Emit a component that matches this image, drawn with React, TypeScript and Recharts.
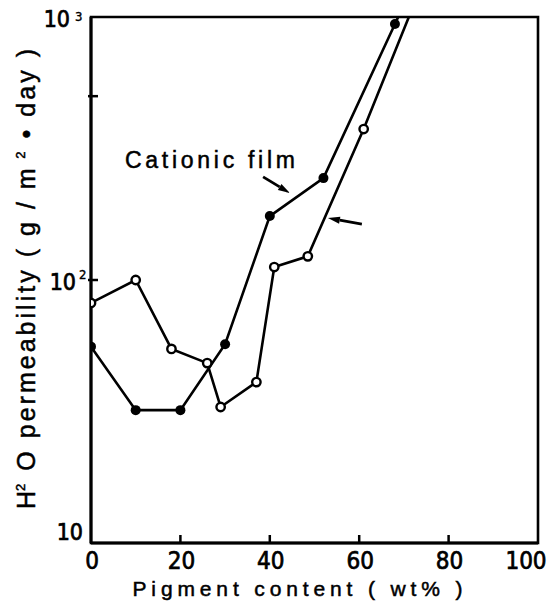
import React from 'react';
import { LineChart, Line, XAxis, YAxis, ReferenceArea, ReferenceLine, ReferenceDot } from 'recharts';

// Cationic film (filled circles); last point lies above the frame and is clipped
const cationicX = [0, 10, 20, 30, 40, 52, 68, 72];
const cationicY = [55.8, 32, 32, 57, 175, 244, 941, 1318];
// Other film (open circles); last point lies above the frame and is clipped
const otherX = [0, 10, 18, 26, 29, 37, 41, 48.5, 61, 74];
const otherY = [81.8, 100, 54.7, 48.3, 32.9, 40.9, 112, 123, 375, 1324];

const xTicks = [0, 20, 40, 60, 80, 100];
const yTicks = [10, 100, 500, 1000];
const yTickBase: Record<number, string> = { 10: '10', 100: '10', 1000: '10' };
const yTickExp: Record<number, string> = { 10: '', 100: '2', 1000: '3' };

const xTitle = 'Pigment content ( wt% )';
const annotationText = 'Cationic film';
const annotationPos = { x: 7.6, y: 267 };
const arrowTails = [{ x: 38.5, y: 246.6 }, { x: 60.6, y: 163 }];
const arrowHeads = [{ x: 44.5, y: 214 }, { x: 53, y: 172 }];

const cationicData = cationicX.map((x, i) => ({ x, y: cationicY[i] }));
const otherData = otherX.map((x, i) => ({ x, y: otherY[i] }));

const NARROW = '"Liberation Sans Narrow", "DejaVu Sans Condensed", "Liberation Sans", Arial, sans-serif';
const SANS = '"Liberation Sans", Arial, sans-serif';
const INK = '#000';

const FilledDot = (p: any) =>
  p.payload.y > 1000 ? <g key={p.index} /> : <circle key={p.index} cx={p.cx} cy={p.cy} r={5} fill={INK} />;
const OpenDot = (p: any) =>
  p.payload.y > 1000 ? <g key={p.index} /> : (
    <circle key={p.index} cx={p.cx} cy={p.cy} r={4.2} fill="#fff" stroke={INK} strokeWidth={2.4} />
  );

const XTick = (p: any) => {
  const v = p.payload.value;
  const inner = v !== 0 && v !== 100;
  return (
    <g>
      {inner && <line x1={p.x} x2={p.x} y1={p.y} y2={p.y - 8} stroke={INK} strokeWidth={2.5} />}
      <text
        x={v === 100 ? p.x - 12 : p.x + 1}
        y={p.y + 26}
        textAnchor="middle"
        fontFamily={NARROW}
        fontSize={24}
        fill={INK}
        stroke={INK}
        strokeWidth={0.7}
      >
        {v}
      </text>
    </g>
  );
};

const YTick = (p: any) => {
  const v = p.payload.value;
  const x = p.x;
  const y = p.y;
  if (v === 500 || v === 100) {
    return (
      <g>
        <line x1={x - 3} x2={x + 7} y1={y} y2={y} stroke={INK} strokeWidth={2.5} />
        {v === 100 && (
          <>
            <text x={x - 15} y={y + 10} textAnchor="end" fontFamily={NARROW} fontSize={23} fill={INK} stroke={INK} strokeWidth={0.7}>
              {yTickBase[v]}
            </text>
            <text x={x - 12} y={y - 1} textAnchor="start" fontFamily={NARROW} fontSize={13} fill={INK} stroke={INK} strokeWidth={0.4}>
              {yTickExp[v]}
            </text>
          </>
        )}
      </g>
    );
  }
  if (v === 1000) {
    return (
      <g>
        <text x={x - 21} y={y + 10} textAnchor="end" fontFamily={NARROW} fontSize={23} fill={INK} stroke={INK} strokeWidth={0.7}>
          {yTickBase[v]}
        </text>
        <text x={x - 16} y={y + 4} textAnchor="start" fontFamily={NARROW} fontSize={13} fill={INK} stroke={INK} strokeWidth={0.4}>
          {yTickExp[v]}
        </text>
      </g>
    );
  }
  return (
    <text x={x - 8} y={y - 3} textAnchor="end" fontFamily={NARROW} fontSize={23} fill={INK} stroke={INK} strokeWidth={0.7}>
      {yTickBase[v]}
    </text>
  );
};

const Arrow = (p: any) => {
  const { x1, y1, x2, y2 } = p;
  const dx = x2 - x1;
  const dy = y2 - y1;
  const len = Math.sqrt(dx * dx + dy * dy) || 1;
  const ux = dx / len;
  const uy = dy / len;
  const hl = 12;
  const hw = 3.5;
  const bx = x2 - ux * hl;
  const by = y2 - uy * hl;
  return (
    <g>
      <line x1={x1} y1={y1} x2={bx} y2={by} stroke={INK} strokeWidth={2.8} />
      <polygon
        points={`${x2},${y2} ${bx - uy * hw},${by + ux * hw} ${bx + uy * hw},${by - ux * hw}`}
        fill={INK}
      />
    </g>
  );
};

const AnnotationText = (p: any) => (
  <text
    x={p.cx}
    y={p.cy}
    fontFamily={SANS}
    fontSize={23}
    fill={INK}
    stroke={INK}
    strokeWidth={0.5}
    textLength={170}
    lengthAdjust="spacing"
  >
    {annotationText}
  </text>
);

const XTitle = (p: any) => {
  const vb = p.viewBox || { x: 91, y: 543, width: 447, height: 60 };
  return (
    <text
      x={vb.x + vb.width / 2 - 17}
      y={vb.y + 53}
      textAnchor="middle"
      fontFamily={SANS}
      fontSize={21}
      fill={INK}
      stroke={INK}
      strokeWidth={0.5}
      textLength={330}
      lengthAdjust="spacing"
    >
      {xTitle}
    </text>
  );
};

const YTitle = () => {
  const cx = 35;
  const cy = 279;
  return (
    <text
      x={cx}
      y={cy}
      transform={`rotate(-90, ${cx}, ${cy})`}
      textAnchor="middle"
      fontFamily={SANS}
      fontSize={25}
      fill={INK}
      stroke={INK}
      strokeWidth={0.5}
      textLength={460}
      lengthAdjust="spacing"
    >
      H<tspan fontSize={13} dy={-10} dx={-3}>2</tspan>
      <tspan dy={10}> O permeability ( g / m</tspan>
      <tspan fontSize={13} dy={-10}> 2</tspan>
      <tspan dy={10}> • day )</tspan>
    </text>
  );
};

export default function App() {
  return (
    <div style={{ position: 'absolute', left: 0, top: 0, width: 550, height: 603, background: '#fff' }}>
      <LineChart width={550} height={603} margin={{ top: 17, right: 12, bottom: 0, left: 0 }}>
        <XAxis
          type="number"
          dataKey="x"
          domain={[0, 100]}
          ticks={xTicks}
          allowDataOverflow
          height={60}
          tickLine={false}
          tickSize={0}
          tickMargin={0}
          axisLine={{ stroke: INK, strokeWidth: 3 }}
          tick={<XTick />}
          interval={0}
          label={{ content: <XTitle /> }}
        />
        <YAxis
          type="number"
          dataKey="y"
          scale="log"
          domain={[10, 1000]}
          ticks={yTicks}
          allowDataOverflow
          width={91}
          tickLine={false}
          tickSize={0}
          tickMargin={0}
          axisLine={{ stroke: INK, strokeWidth: 3 }}
          tick={<YTick />}
          interval={0}
          label={{ content: <YTitle /> }}
        />
        <ReferenceArea x1={0} x2={100} y1={10} y2={1000} fill="none" stroke={INK} strokeWidth={2.6} fillOpacity={0} />
        <Line
          data={otherData}
          dataKey="y"
          type="linear"
          stroke={INK}
          strokeWidth={2.6}
          dot={OpenDot}
          activeDot={false}
          isAnimationActive={false}
        />
        <Line
          data={cationicData}
          dataKey="y"
          type="linear"
          stroke={INK}
          strokeWidth={2.6}
          dot={FilledDot}
          activeDot={false}
          isAnimationActive={false}
        />
        {arrowTails.map((t, i) => (
          <ReferenceLine key={`arrow-${i}`} segment={[t, arrowHeads[i]]} shape={Arrow} ifOverflow="visible" />
        ))}
        <ReferenceDot x={annotationPos.x} y={annotationPos.y} shape={AnnotationText} ifOverflow="visible" />
      </LineChart>
    </div>
  );
}
